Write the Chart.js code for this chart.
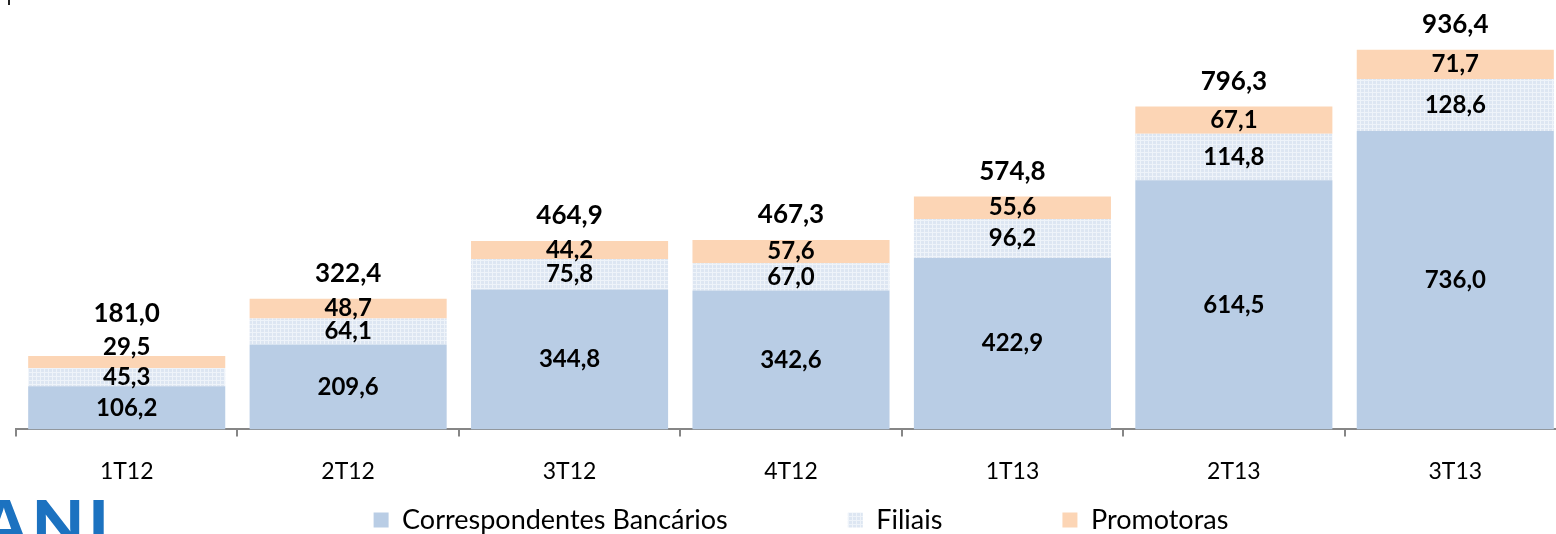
<!DOCTYPE html>
<html><head><meta charset="utf-8">
<script src="https://cdn.jsdelivr.net/npm/chart.js@4/dist/chart.umd.min.js"></script>
<style>
html,body{margin:0;padding:0;background:#fff;overflow:hidden}
#wrap{position:relative;width:1556px;height:534px;overflow:hidden}
#c{position:absolute;left:0;top:0}
#logo{position:absolute;left:0;top:500px;width:118px;height:34px;overflow:hidden}
#logo span{position:absolute;left:-20px;top:-12px;font:900 68px Lato;color:#1c72c0;letter-spacing:4px;line-height:1}
#mark{position:absolute;left:8px;top:0;width:2px;height:5px;background:#222}
</style></head>
<body><div id="wrap"><canvas id="c" width="1566" height="534"></canvas><div id="logo"><span>ANI</span></div><div id="mark"></div></div>
<script>
const categories = ['1T12','2T12','3T12','4T12','1T13','2T13','3T13'];
const correspondentes = [106.2, 209.6, 344.8, 342.6, 422.9, 614.5, 736.0];
const filiais = [45.3, 64.1, 75.8, 67.0, 96.2, 114.8, 128.6];
const promotoras = [29.5, 48.7, 44.2, 57.6, 55.6, 67.1, 71.7];
const totals = [181.0, 322.4, 464.9, 467.3, 574.8, 796.3, 936.4];
const seriesNames = ['Correspondentes Bancários', 'Filiais', 'Promotoras'];

Chart.defaults.font.family = 'Lato, "Open Sans", sans-serif';
Chart.defaults.color = '#000';

const canvas = document.getElementById('c');
const ctx = canvas.getContext('2d');

function gridPattern() {
  const p = document.createElement('canvas');
  p.width = 4; p.height = 4;
  const g = p.getContext('2d');
  g.fillStyle = '#dde6f2'; g.fillRect(0, 0, 4, 4);
  g.fillStyle = '#eef3f9'; g.fillRect(0, 0, 4, 1); g.fillRect(0, 0, 1, 4);
  return ctx.createPattern(p, 'repeat');
}

const fmt = v => v.toFixed(1).replace('.', ',');

const labelsPlugin = {
  id: 'segLabels',
  afterDatasetsDraw(chart) {
    const c = chart.ctx;
    c.save();
    c.fillStyle = '#000';
    c.textAlign = 'center';
    c.textBaseline = 'middle';
    const n = chart.data.labels.length;
    for (let j = 0; j < n; j++) {
      let prevY = null;
      c.font = 'bold 24px Lato';
      chart.data.datasets.forEach((ds, i) => {
        const bar = chart.getDatasetMeta(i).data[j];
        let y = (bar.y + bar.base) / 2;
        if (prevY !== null && prevY - y < 20) y = prevY - 30;
        c.fillText(fmt(ds.data[j]), bar.x, y);
        prevY = y;
      });
      const top = chart.getDatasetMeta(chart.data.datasets.length - 1).data[j];
      c.font = 'bold 26px Lato';
      c.fillText(fmt(totals[j]), top.x, Math.min(top.y - 25, prevY - 34));
    }
    c.restore();
  }
};

const LEGEND_CENTER_Y = 520;
const LEGEND_SHIFT_X = 10;
const legendPlace = {
  id: 'legendPlace',
  afterLayout(chart) {
    const lg = chart.legend;
    const pad = lg.options.labels.padding;
    const ih = Math.max(lg.options.labels.font.size, lg.options.labels.boxHeight);
    lg.top = LEGEND_CENTER_Y - pad - ih / 2;
    lg.bottom = chart.height;
    lg.height = lg.bottom - lg.top;
    lg.left += LEGEND_SHIFT_X;
    lg.right += LEGEND_SHIFT_X;
  }
};

new Chart(ctx, {
  type: 'bar',
  data: {
    labels: categories,
    datasets: [
      { label: seriesNames[0], data: correspondentes, backgroundColor: '#b9cde5' },
      { label: seriesNames[1], data: filiais, backgroundColor: gridPattern() },
      { label: seriesNames[2], data: promotoras, backgroundColor: '#fcd5b5' }
    ]
  },
  options: {
    responsive: false,
    animation: false,
    devicePixelRatio: 1,
    barPercentage: 0.89,
    categoryPercentage: 1,
    layout: { padding: { top: 24, left: 16, right: 0, bottom: 0 } },
    scales: {
      x: {
        stacked: true,
        offset: true,
        grid: { display: true, drawOnChartArea: false, drawTicks: true, tickLength: 7, color: '#868686', lineWidth: 2, offset: true },
        border: { display: true, color: '#868686', width: 2 },
        ticks: { font: { size: 23 }, color: '#000', padding: 21 }
      },
      y: { stacked: true, display: false, min: 0, max: 1000 }
    },
    plugins: {
      legend: {
        position: 'bottom',
        maxHeight: 28,
        labels: { boxWidth: 15, boxHeight: 15, padding: 120, font: { size: 27 }, color: '#000' }
      },
      tooltip: { enabled: false }
    }
  },
  plugins: [labelsPlugin, legendPlace]
});
</script>
</body></html>
